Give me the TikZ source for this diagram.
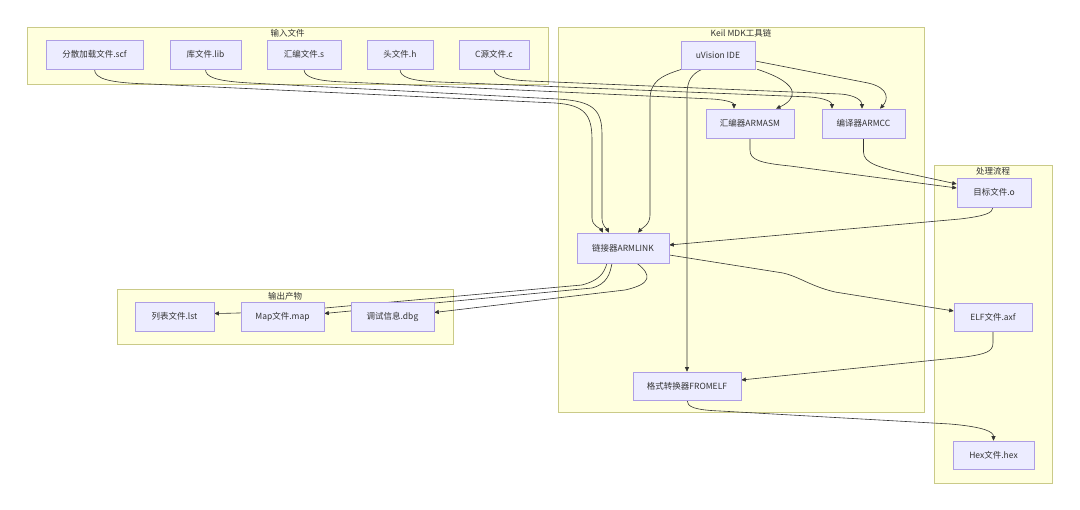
\documentclass[tikz,border=0pt]{standalone}
\usepackage{fontspec}
\setmainfont{Noto Sans CJK SC}
\usetikzlibrary{arrows.meta}
\pgfdeclarelayer{bg}
\pgfdeclarelayer{mid}
\pgfsetlayers{bg,mid,main}
\definecolor{nodefill}{HTML}{ECECFF}
\definecolor{nodeline}{HTML}{AE9EE4}
\definecolor{clfill}{HTML}{FFFFDE}
\definecolor{clline}{HTML}{CACA88}
\definecolor{edgec}{HTML}{333333}
\begin{document}
\begin{tikzpicture}[x=1pt,y=-1pt,
  box/.style={draw=nodeline, fill=nodefill, line width=0.6pt, inner sep=0pt,
    minimum height=29pt, font=\fontsize{8.5}{10}\selectfont, text=edgec},
  cluster/.style={draw=clline, fill=clfill, line width=0.6pt},
  ctitle/.style={font=\fontsize{8.5}{10}\selectfont, text=edgec, inner sep=0pt},
  edge/.style={draw=edgec, line width=0.6pt, -{Triangle[length=4.5pt,width=4pt]}}]
\useasboundingbox (0,0) rectangle (1080,510);
% clusters
\begin{pgfonlayer}{bg}
\draw[cluster] (27,27) rectangle (548,84);
\draw[cluster] (558,27) rectangle (924,412);
\draw[cluster] (934,165) rectangle (1052,483);
\draw[cluster] (117,289) rectangle (453,344);
\end{pgfonlayer}
\node[ctitle] (tin) at (287.5,33.5) {输入文件};
\node[ctitle] (tkeil) at (741,33.5) {Keil MDK工具链};
\node[ctitle] (tproc) at (993,171) {处理流程};
\node[ctitle] (tout) at (285,296) {输出产物};
% input nodes
\node[box, minimum width=97pt] (scf) at (94.5,54.5) {分散加载文件.scf};
\node[box, minimum width=71pt] (lib) at (205.5,54.5) {库文件.lib};
\node[box, minimum width=74pt] (asm) at (304,54.5) {汇编文件.s};
\node[box, minimum width=66pt] (hdr) at (400,54.5) {头文件.h};
\node[box, minimum width=70pt] (csrc) at (494,54.5) {C源文件.c};
% keil nodes
\node[box, minimum width=74pt, minimum height=28pt] (uv) at (718,55) {uVision IDE};
\node[box, minimum width=88pt] (arm) at (750,123.5) {汇编器ARMASM};
\node[box, minimum width=83pt] (cc) at (863.5,123.5) {编译器ARMCC};
\node[box, minimum width=92pt, minimum height=30pt] (link) at (623,248) {链接器ARMLINK};
\node[box, minimum width=108pt, minimum height=28pt] (fe) at (687,386) {格式转换器FROMELF};
% processing nodes
\node[box, minimum width=74pt] (obj) at (994,192.5) {目标文件.o};
\node[box, minimum width=78pt, minimum height=28pt] (elf) at (993,317) {ELF文件.axf};
\node[box, minimum width=81pt, minimum height=28pt] (hex) at (993.5,455) {Hex文件.hex};
% output nodes
\node[box, minimum width=79pt] (lst) at (174.5,316.5) {列表文件.lst};
\node[box, minimum width=83pt] (map) at (282.5,316.5) {Map文件.map};
\node[box, minimum width=83pt] (dbg) at (392.5,316.5) {调试信息.dbg};
% edges
\begin{pgfonlayer}{mid}
\draw[edge] (scf.south) .. controls (94.5,79) and (110,83) .. (150,84) -- (555,103)
  .. controls (585,105) and (592,115) .. (592,140) -- (592,218)
  .. controls (592,226) and (601,229) .. ([xshift=-20pt]link.north);
\draw[edge] (lib.south) .. controls (205.5,77) and (215,81) .. (250,83) -- (557,99)
  .. controls (594,101) and (602,110) .. (602,135) -- (602,218)
  .. controls (602,226) and (607,229) .. ([xshift=-14pt]link.north);
\draw[edge] (asm.south) .. controls (304,77) and (315,81) .. (345,82) -- (712,99)
  .. controls (728,100) and (734,103) .. ([xshift=-16pt]arm.north);
\draw[edge] (hdr.south) .. controls (400,77) and (410,81) .. (440,82) -- (810,97)
  .. controls (825,98) and (832,102) .. ([xshift=-31.5pt]cc.north);
\draw[edge] (csrc.south) .. controls (494,76) and (505,80) .. (530,81) -- (840,94)
  .. controls (856,95) and (862,101) .. ([xshift=-1.5pt]cc.north);
\draw[edge] ([xshift=2pt]uv.south east) .. controls (805,85) and (795,100) .. ([xshift=26pt]arm.north);
\draw[edge] ([yshift=-6pt]uv.east) -- (868,83) .. controls (890,88) and (888,100) .. ([xshift=16.5pt]cc.north);
\draw[edge] ([xshift=1pt]uv.south west) .. controls (660,76) and (650,82) .. (650,100) -- (650,215)
  .. controls (650,225) and (642,228) .. ([xshift=15pt]link.north);
\draw[edge] ([xshift=-16pt]uv.south) .. controls (692,74) and (687,80) .. (687,95) -- (fe.north);
\draw[edge] (arm.south) -- (750,150) .. controls (750,160) and (760,163) .. (790,166) -- ([yshift=4.5pt]obj.west);
\draw[edge] (cc.south) -- (863.5,152) .. controls (863.5,163) and (878,168) .. (915,175) -- ([yshift=8.5pt]obj.west);
\draw[edge] ([xshift=-1pt]obj.south) .. controls (993,213) and (985,216) .. (960,219) -- ([yshift=3pt]link.east);
\draw[edge] ([yshift=-7pt]link.east) -- (783,273) .. controls (800,277) and (810,286) .. (835,292) -- ([yshift=6pt]elf.west);
\draw[edge] (elf.south) -- (993,343) .. controls (993,352) and (985,354) .. (965,357) -- ([yshift=6pt]fe.east);
\draw[edge] (fe.south) .. controls (687,407) and (695,410) .. (720,411) -- (950,424)
  .. controls (985,427) and (993.5,432) .. (hex.north);
\draw[edge] ([xshift=-16pt]link.south) .. controls (604,273) and (600,280) .. (582,285) -- (325,308)
  .. controls (290,311) and (250,313) .. ([yshift=3pt]lst.east);
\draw[edge] ([xshift=-11pt]link.south) .. controls (610,274) and (607,284) .. (592,288) -- ([yshift=3pt]map.east);
\draw[edge] ([xshift=14pt]link.south) .. controls (652,275) and (652,284) .. (625,290) -- ([yshift=4pt]dbg.east);
\end{pgfonlayer}
\end{tikzpicture}
\end{document}
